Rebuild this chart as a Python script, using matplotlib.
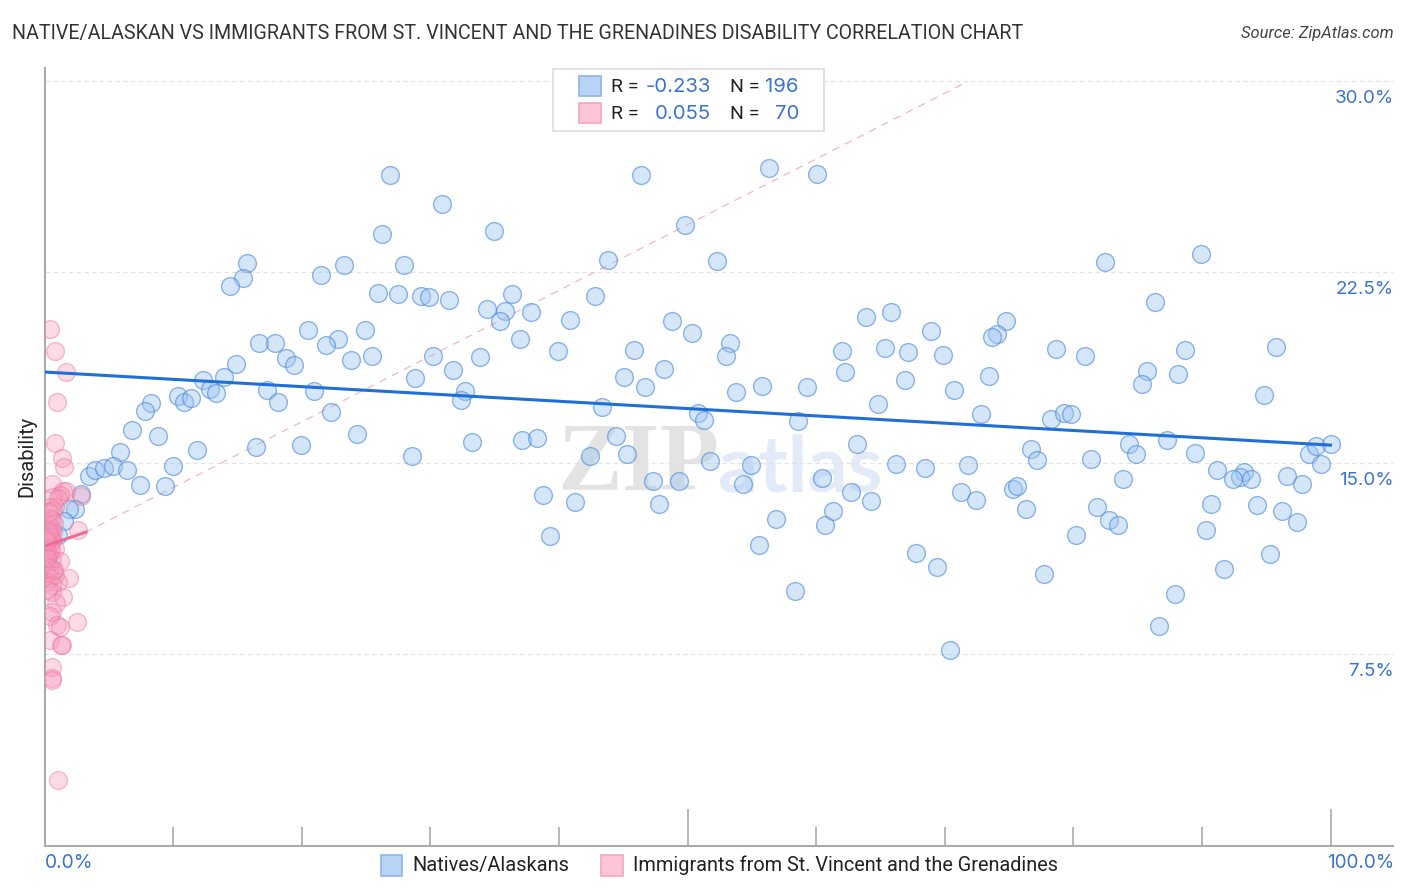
import matplotlib
matplotlib.use("Agg")
import matplotlib.pyplot as plt
from matplotlib.patches import Rectangle

plt.rcParams['font.family'] = ['Roboto', 'DejaVu Sans']

W, H = 1406, 892

# Natives/Alaskans (x %, y %)
natives_x = [26.87, 30.91, 56.34, 60.07, 46.38, 26.24, 34.95, 49.81, 15.75, 15.44, 14.42, 21.50, 23.29, 27.95, 43.82, 52.29,
             82.46, 89.93, 25.93, 27.49, 29.28, 29.90, 31.45, 42.81, 36.35, 34.41, 35.81, 35.42, 37.83, 40.86, 86.35, 63.88,
             65.82, 48.79, 50.35, 74.77, 74.07, 73.68, 68.93, 20.49, 24.92, 22.82, 21.89, 16.68, 17.92, 18.78, 19.40, 14.89,
             23.83, 25.47, 30.21, 33.86, 36.97, 39.93, 45.84, 53.30, 52.99, 62.01, 65.36, 67.15, 69.87, 78.65, 80.91, 88.69,
             95.76, 85.73, 88.14, 85.34, 62.25, 48.17, 45.06, 46.69, 53.77, 55.79, 59.29, 66.91, 70.72, 73.44, 28.81, 31.76,
             32.70, 32.39, 12.32, 13.96, 12.87, 13.34, 10.38, 10.85, 11.39, 8.28, 7.81, 17.30, 18.16, 20.96, 22.28, 43.35,
             64.81, 72.82, 78.27, 79.28, 79.82, 94.83, 50.82, 51.28, 58.59, 6.80, 8.83, 24.30, 33.24, 37.13, 38.30, 44.44,
             63.18, 87.29, 84.33, 84.87, 76.71, 77.18, 89.46, 81.38, 98.33, 98.87, 100.04, 99.26, 5.87, 11.86, 16.45, 19.95,
             28.58, 42.42, 45.30, 51.75, 54.94, 66.21, 68.47, 71.81, 91.17, 93.27, 92.96, 93.82, 92.42, 96.62, 97.78, 83.86,
             3.46, 3.93, 4.63, 5.33, 6.42, 9.99, 7.43, 9.37, 2.84, 47.32, 49.34, 54.32, 60.46, 62.71, 71.27, 75.31,
             75.62, 72.43, 38.76, 41.25, 47.78, 64.27, 90.71, 94.29, 81.84, 76.32, 96.23, 97.39, 2.37, 1.91, 1.52, 1.05,
             56.88, 60.69, 61.31, 82.78, 83.48, 90.32, 80.21, 39.31, 55.56, 67.77, 95.30, 69.40, 91.72, 77.72, 58.36, 87.91,
             86.66, 70.41]
natives_y = [26.32, 25.19, 26.60, 26.36, 26.32, 24.01, 24.13, 24.36, 22.87, 22.28, 21.97, 22.40, 22.79, 22.79, 22.99, 22.95,
             22.91, 23.22, 21.69, 21.65, 21.57, 21.53, 21.42, 21.57, 21.65, 21.06, 20.98, 20.59, 20.95, 20.63, 21.34, 20.75,
             20.95, 20.59, 20.12, 20.59, 20.08, 19.96, 20.20, 20.24, 20.24, 19.89, 19.65, 19.73, 19.73, 19.14, 18.86, 18.90,
             19.06, 19.22, 19.22, 19.18, 19.89, 19.41, 19.45, 19.73, 19.22, 19.41, 19.53, 19.37, 19.26, 19.49, 19.22, 19.45,
             19.57, 18.63, 18.51, 18.12, 18.59, 18.71, 18.39, 18.00, 17.80, 18.04, 18.00, 18.28, 17.88, 18.43, 18.35, 18.67,
             17.84, 17.49, 18.28, 18.39, 17.92, 17.77, 17.65, 17.41, 17.57, 17.37, 17.06, 17.88, 17.41, 17.84, 17.02, 17.22,
             17.33, 16.94, 16.74, 16.98, 16.94, 17.69, 16.98, 16.71, 16.67, 16.31, 16.08, 16.16, 15.84, 15.92, 16.00, 16.08,
             15.76, 15.92, 15.76, 15.37, 15.57, 15.13, 15.41, 15.17, 15.37, 15.68, 15.76, 14.98, 15.45, 15.53, 15.65, 15.72,
             15.29, 15.29, 15.37, 15.10, 14.94, 14.98, 14.82, 14.94, 14.74, 14.66, 14.47, 14.39, 14.39, 14.51, 14.19, 14.39,
             14.51, 14.74, 14.82, 14.90, 14.74, 14.90, 14.15, 14.11, 13.80, 14.31, 14.31, 14.19, 14.43, 13.88, 13.88, 14.00,
             14.11, 13.56, 13.76, 13.49, 13.41, 13.52, 13.41, 13.37, 13.29, 13.21, 13.13, 12.70, 13.21, 13.21, 12.74, 12.19,
             12.82, 12.58, 13.13, 12.78, 12.58, 12.39, 12.19, 12.15, 11.80, 11.48, 11.44, 10.93, 10.86, 10.66, 9.99, 9.87,
             8.62, 7.68]

# Immigrants from St. Vincent and the Grenadines
immigrants_x = [0.43, 0.82, 1.67, 0.97, 0.82, 1.36, 1.52, 0.58, 1.44, 1.67, 1.21, 0.66, 2.84, 1.05, 0.43, 0.66, 0.82, 0.43,
                0.58, 2.60, 0.35, 0.58, 0.27, 0.43, 0.66, 0.27, 0.58, 0.43, 0.27, 0.82, 0.35, 0.58, 1.21, 0.19, 0.43, 0.66,
                0.19, 0.82, 1.91, 0.43, 1.05, 0.19, 0.58, 0.74, 0.27, 0.58, 1.44, 0.89, 0.58, 0.43, 2.53, 0.97, 1.21, 0.43,
                1.36, 1.28, 0.58, 0.58, 0.58, 1.05, 0.12, 0.19, 0.35, 0.51, 0.19, 0.74, 0.51, 0.19, 0.35, 0.12]
immigrants_y = [20.28, 19.41, 18.59, 17.41, 15.80, 15.21, 14.86, 14.19, 13.92, 13.92, 13.76, 13.68, 13.72, 13.64, 13.29, 13.17,
                13.29, 12.86, 12.78, 12.39, 12.58, 12.39, 12.19, 12.07, 12.27, 11.88, 11.95, 11.76, 11.52, 11.64, 11.37, 11.21,
                11.17, 11.09, 10.89, 10.82, 10.70, 10.62, 10.50, 10.50, 10.35, 10.35, 10.23, 10.82, 10.03, 9.95, 9.76, 9.52,
                9.17, 9.01, 8.77, 8.66, 8.58, 8.07, 7.87, 7.87, 7.01, 6.58, 6.50, 2.57, 11.68, 12.39, 13.09, 11.60, 11.29,
                12.66, 12.10, 11.90, 12.30, 12.00]

# trend lines
natives_line_x = [0, 100]
natives_line_y = [18.59, 15.72]
immigrants_line_x = [0, 3.2]
immigrants_line_y = [11.75, 12.3]
immigrants_dash_x = [3.2, 71.8]
immigrants_dash_y = [12.3, 30.0]

y_ticks = [7.5, 15, 22.5, 30]
y_labels = ["7.5%", "15.0%", "22.5%", "30.0%"]
x_minor = [10, 20, 30, 40, 60, 70, 80, 90]
x_major = [50, 100]

BLUE = "#1f6fd8"
PINK = "#ee6a94"
TEXT_BLUE = "#3a72d0"
GRAY = "#aaaaaa"
NUM_FONT = "Inter"


def fx(px):
    return px / W


def fy(py):
    return 1 - py / H


fig = plt.figure(figsize=(W / 100, H / 100), dpi=100)
ax = fig.add_axes([fx(44.5), fy(845.5), (1393 - 44.5) / W, (845.5 - 68) / H])
ax.set_xlim(0, (1393 - 44.5) / 12.86)
ax.set_ylim(0, (845.5 - 68) / 25.47)

for s in ['top', 'right']:
    ax.spines[s].set_visible(False)
for s in ['left', 'bottom']:
    ax.spines[s].set_color(GRAY)
    ax.spines[s].set_linewidth(1.5)

ax.set_yticks(y_ticks)
ax.set_yticklabels([])
ax.tick_params(axis='y', length=0)
ax.grid(axis='y', color="#e2e2e2", linewidth=0.8, linestyle=(0, (4, 3)))
ax.set_axisbelow(True)

ax.set_xticks(x_major)
ax.set_xticks(x_minor, minor=True)
ax.set_xticklabels([])
ax.tick_params(axis='x', which='major', direction='in', length=27, width=1.2, color=GRAY)
ax.tick_params(axis='x', which='minor', direction='in', length=13.5, width=1.2, color=GRAY)

# watermark
ax.text((557 - 44.5) / 12.86, (845.5 - 490) / 25.47, "ZIP", family="Liberation Serif", weight="bold",
        fontsize=70, color="#e3e3e3", zorder=0.5)
ax.text((718 - 44.5) / 12.86, (845.5 - 491) / 25.47, "atlas", family="Lato", weight="bold",
        fontsize=57, color="#e3ebf8", zorder=0.5)

ax.scatter(natives_x, natives_y, s=165, facecolor=(0.62, 0.77, 0.95, 0.42), edgecolor=(0.30, 0.55, 0.85, 0.62),
           linewidth=1.0, zorder=3)
ax.scatter(immigrants_x, immigrants_y, s=165, facecolor=(0.97, 0.60, 0.73, 0.36), edgecolor=(0.93, 0.45, 0.62, 0.45),
           linewidth=1.0, zorder=4)

ax.plot(natives_line_x, natives_line_y, color=BLUE, linewidth=2.2, zorder=5)
ax.plot(immigrants_line_x, immigrants_line_y, color=PINK, linewidth=2.2, zorder=5)
ax.plot(immigrants_dash_x, immigrants_dash_y, color="#f3b5c8", linewidth=0.9, linestyle=(0, (6, 5)), zorder=2)

# tick labels sit below their gridlines
for v, lab in zip(y_ticks, y_labels):
    ax.annotate(lab, xy=(1, v), xycoords=ax.get_yaxis_transform(), xytext=(0.8, -12.6), textcoords='offset points',
                ha='right', va='center', fontsize=13.5, color=TEXT_BLUE, family=NUM_FONT)
fig.text(fx(45), fy(863.5), "0.0%", ha='left', va='center', fontsize=13.8, color=TEXT_BLUE, family=NUM_FONT)
fig.text(fx(1394), fy(863.5), "100.0%", ha='right', va='center', fontsize=13.6, color=TEXT_BLUE, family=NUM_FONT)

fig.text(fx(12), fy(33.5), "NATIVE/ALASKAN VS IMMIGRANTS FROM ST. VINCENT AND THE GRENADINES DISABILITY CORRELATION CHART",
         ha='left', va='center', fontsize=14.1, color="#333333")
fig.text(fx(1394), fy(33.5), "Source: ZipAtlas.com", ha='right', va='center', fontsize=11.9, style='italic', color="#444444")
fig.text(fx(27), fy(456), "Disability", rotation=90, ha='center', va='center', fontsize=14.5, color="#222222")


def box(x0, y0, x1, y1, face, edge, lw=1.2, zorder=6):
    fig.add_artist(Rectangle((fx(x0), fy(y1)), (x1 - x0) / W, (y1 - y0) / H, transform=fig.transFigure,
                             facecolor=face, edgecolor=edge, linewidth=lw, zorder=zorder))


# top legend
box(552.5, 68.5, 824, 130.5, "white", "#dddddd")
box(578.5, 75.5, 600.5, 95.5, "#b9d3f7", "#8fb4e8", zorder=7)
box(578.5, 102.5, 600.5, 122.5, "#fcc6d8", "#f3a5bd", zorder=7)
for py, r, n in [(86.5, "-0.233", "196"), (114, "0.055", "70")]:
    fig.text(fx(611), fy(py), "R = ", ha='left', va='center', fontsize=14, color="#222222", zorder=8)
    fig.text(fx(711), fy(py), r, ha='right', va='center', fontsize=14.6, color=TEXT_BLUE, family=NUM_FONT, zorder=8)
    fig.text(fx(730), fy(py), "N = ", ha='left', va='center', fontsize=14, color="#222222", zorder=8)
    fig.text(fx(799), fy(py), n, ha='right', va='center', fontsize=14.6, color=TEXT_BLUE, family=NUM_FONT, zorder=8)

# bottom legend
box(380.5, 854.5, 402, 875.5, "#b9d3f7", "#8fb4e8")
fig.text(fx(412.5), fy(865), "Natives/Alaskans", ha='left', va='center', fontsize=14.4, color="#222222")
box(600.5, 854.5, 622.5, 875.5, "#fcc6d8", "#f3a5bd")
fig.text(fx(633), fy(865), "Immigrants from St. Vincent and the Grenadines", ha='left', va='center', fontsize=14.35,
         color="#222222")

fig.savefig("out.png", dpi=100)
